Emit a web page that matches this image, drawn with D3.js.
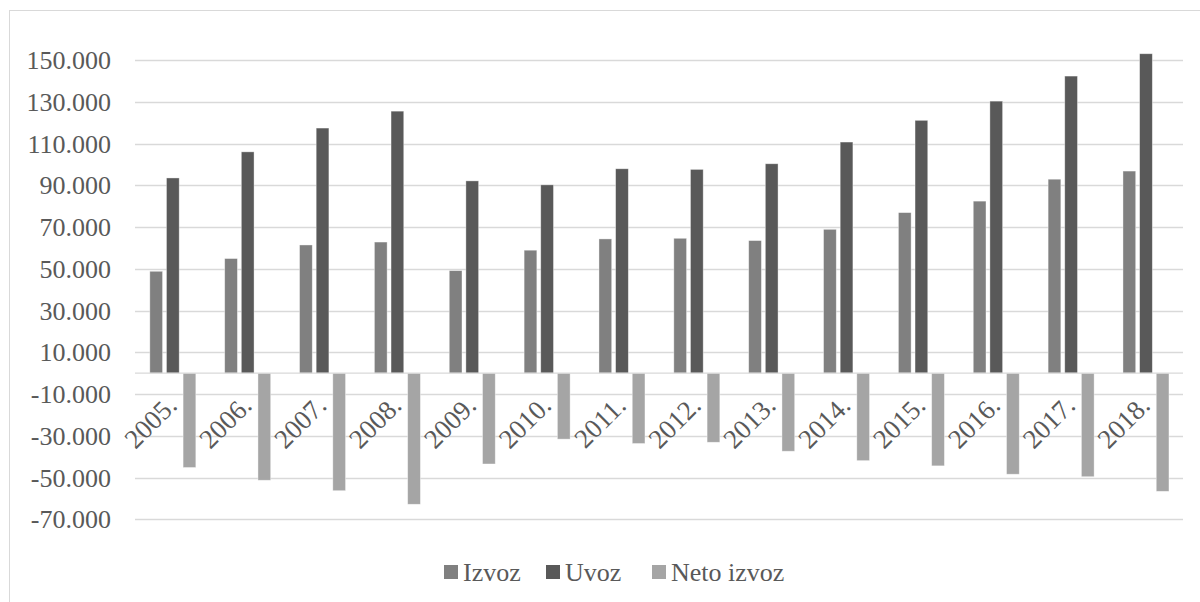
<!DOCTYPE html>
<html>
<head>
<meta charset="utf-8">
<script src="https://cdn.jsdelivr.net/npm/d3@7/dist/d3.min.js"></script>
<style>
  html, body { margin: 0; padding: 0; background: #fff; }
  svg { display: block; }
  #chart, #chart text { font-family: "Liberation Serif", "Times New Roman", Tinos, serif; }
</style>
</head>
<body>
<svg id="chart" width="1200" height="602"></svg>
<script>
const years = ["2005.","2006.","2007.","2008.","2009.","2010.","2011.","2012.","2013.","2014.","2015.","2016.","2017.","2018."];
const seriesNames = ["Izvoz","Uvoz","Neto izvoz"];
const izvoz = [48.8,54.9,61.4,62.8,49.1,58.9,64.3,64.6,63.5,68.9,76.9,82.4,92.9,96.8];
const uvoz = [93.5,106.0,117.4,125.5,92.1,90.2,97.9,97.6,100.3,110.7,121.1,130.3,142.3,153.0];
const netoIzvoz = [-45.2,-51.3,-56.3,-62.8,-43.5,-31.6,-33.7,-33.1,-37.4,-41.9,-44.4,-48.4,-49.6,-56.6];
const yTicks = [-70,-50,-30,-10,10,30,50,70,90,110,130,150];
const colors = ["#808080","#595959","#a5a5a5"];

const seriesValues = [izvoz, uvoz, netoIzvoz];
const svg = d3.select("#chart");

// chart border (right/bottom out of view)
svg.append("rect").attr("x", 9.5).attr("y", 10.5).attr("width", 1250).attr("height", 650)
  .attr("fill", "none").attr("stroke", "#d9d9d9").attr("stroke-width", 1);

const left = 135, right = 1183;
const y = d3.scaleLinear().domain([-70, 150]).range([519.3, 60]);
const x = d3.scaleBand().domain(years).range([left, right]).paddingInner(0).paddingOuter(0);
const x1 = d3.scaleBand().domain(seriesNames).range([-22.6, 23.4]).paddingInner(0.235).paddingOuter(0);

const fmt = v => (v < 0 ? "-" : "") + String(Math.abs(v)) + ".000";

// gridlines
svg.append("g").selectAll("line").data(yTicks).join("line")
  .attr("x1", left).attr("x2", right)
  .attr("y1", d => Math.round(y(d)) + 0.5).attr("y2", d => Math.round(y(d)) + 0.5)
  .attr("stroke", "#d9d9d9").attr("stroke-width", 1.3);

// y tick labels
svg.append("g").selectAll("text").data(yTicks).join("text")
  .attr("x", 111).attr("y", d => y(d)).attr("dy", "0.35em")
  .attr("text-anchor", "end").attr("font-size", 26)
  .attr("fill", "#595959")
  .text(d => fmt(d));

// bars
const groups = svg.append("g").selectAll("g").data(years).join("g")
  .attr("transform", d => `translate(${x(d) + x.bandwidth() / 2},0)`);
groups.selectAll("rect").data((d, i) => seriesNames.map((s, k) => ({ s, k, v: seriesValues[k][i] })))
  .join("rect")
  .attr("x", d => x1(d.s))
  .attr("width", x1.bandwidth())
  .attr("y", d => y(Math.max(0, d.v)))
  .attr("height", d => Math.abs(y(d.v) - y(0)))
  .attr("fill", d => colors[d.k])
  .attr("stroke", "#ffffff").attr("stroke-opacity", 0.5).attr("stroke-width", 0.75);

// zero axis line
svg.append("line").attr("x1", left).attr("x2", right)
  .attr("y1", y(0)).attr("y2", y(0))
  .attr("stroke", "#d9d9d9").attr("stroke-width", 1.3);

// category labels, rotated
svg.append("g").selectAll("text").data(years).join("text")
  .attr("transform", d => `translate(${x(d) + x.bandwidth() / 2 + 6},${y(0) + 34}) rotate(-45)`)
  .attr("text-anchor", "end").attr("font-size", 27)
  .attr("fill", "#595959")
  .text(d => d);

// legend
const legendItems = [
  { name: seriesNames[0], sx: 444, color: colors[0] },
  { name: seriesNames[1], sx: 546, color: colors[1] },
  { name: seriesNames[2], sx: 652, color: colors[2] }
];
const lg = svg.append("g").selectAll("g").data(legendItems).join("g");
lg.append("rect").attr("x", d => d.sx).attr("y", 565).attr("width", 14).attr("height", 14)
  .attr("fill", d => d.color);
lg.append("text").attr("x", d => d.sx + 19).attr("y", 581).attr("font-size", 26)
  .attr("fill", "#595959").text(d => d.name);
</script>
</body>
</html>
